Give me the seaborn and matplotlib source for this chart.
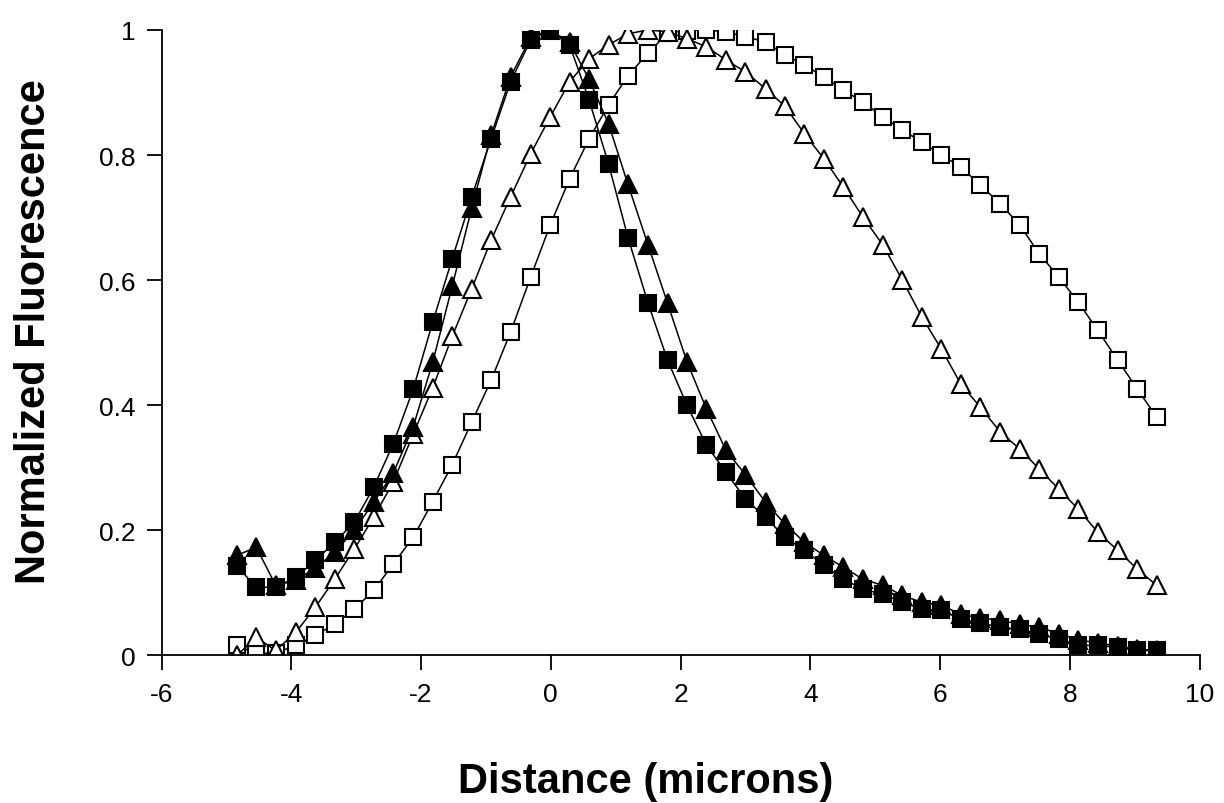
import numpy as np
import pandas as pd
import matplotlib
matplotlib.use("Agg")
import matplotlib.pyplot as plt
import seaborn as sns

# distance along the profile (microns), shared by all four profiles
distance = [-4.84, -4.54, -4.24, -3.93, -3.63, -3.33, -3.03, -2.73, -2.43, -2.12,
            -1.82, -1.52, -1.22, -0.92, -0.62, -0.31, -0.01, 0.29, 0.59, 0.89,
            1.19, 1.50, 1.80, 2.10, 2.40, 2.70, 3.00, 3.31, 3.61, 3.91,
            4.21, 4.51, 4.81, 5.12, 5.42, 5.72, 6.02, 6.32, 6.62, 6.93,
            7.23, 7.53, 7.83, 8.13, 8.43, 8.74, 9.04, 9.34]

filled_square = [0.143, 0.109, 0.109, 0.125, 0.152, 0.181, 0.213, 0.269, 0.338, 0.426,
                 0.533, 0.634, 0.733, 0.826, 0.917, 0.984, 1.0, 0.976, 0.888, 0.786,
                 0.668, 0.563, 0.472, 0.400, 0.336, 0.293, 0.250, 0.221, 0.189, 0.168,
                 0.144, 0.122, 0.106, 0.098, 0.085, 0.074, 0.072, 0.058, 0.052, 0.045,
                 0.042, 0.034, 0.026, 0.016, 0.016, 0.013, 0.008, 0.008]

filled_triangle = [0.160, 0.173, 0.112, 0.120, 0.140, 0.165, 0.200, 0.245, 0.291, 0.366,
                   0.469, 0.590, 0.715, 0.832, 0.925, 0.988, 1.0, 0.980, 0.921, 0.850,
                   0.753, 0.656, 0.563, 0.469, 0.394, 0.328, 0.289, 0.245, 0.210, 0.181,
                   0.160, 0.141, 0.122, 0.112, 0.096, 0.085, 0.080, 0.066, 0.060, 0.056,
                   0.050, 0.045, 0.035, 0.025, 0.020, 0.015, 0.010, 0.008]

open_triangle = [0.000, 0.029, 0.008, 0.037, 0.077, 0.122, 0.170, 0.221, 0.277, 0.354,
                 0.428, 0.510, 0.586, 0.664, 0.733, 0.802, 0.861, 0.917, 0.954, 0.976,
                 0.994, 1.0, 0.997, 0.986, 0.973, 0.952, 0.933, 0.906, 0.878, 0.834,
                 0.794, 0.749, 0.701, 0.656, 0.600, 0.541, 0.490, 0.434, 0.397, 0.357,
                 0.330, 0.298, 0.266, 0.234, 0.197, 0.168, 0.138, 0.112]

open_square = [0.016, 0.003, 0.004, 0.016, 0.032, 0.050, 0.074, 0.104, 0.146, 0.189,
               0.246, 0.305, 0.373, 0.440, 0.517, 0.605, 0.688, 0.762, 0.826, 0.880,
               0.927, 0.963, 0.995, 0.999, 1.0, 0.997, 0.989, 0.981, 0.960, 0.944,
               0.925, 0.904, 0.885, 0.861, 0.840, 0.821, 0.800, 0.781, 0.752, 0.722,
               0.688, 0.642, 0.605, 0.565, 0.520, 0.472, 0.426, 0.381]

x_ticks = [-6, -4, -2, 0, 2, 4, 6, 8, 10]
y_ticks = [0, 0.2, 0.4, 0.6, 0.8, 1]
y_tick_labels = ["0", "0.2", "0.4", "0.6", "0.8", "1"]

sns.set_style("ticks")
plt.rcParams['font.family'] = ['Liberation Sans', 'DejaVu Sans']
plt.rcParams['axes.unicode_minus'] = False

fig = plt.figure(figsize=(12.24, 8.04), dpi=100)
ax = fig.add_axes([0.132, 0.1835, 0.848, 0.778])

# (values, marker, face colour, marker size) -- drawn back to front
series = [
    (open_square, "s", "white", 12),
    (open_triangle, "^", "white", 13),
    (filled_triangle, "^", "black", 13),
    (filled_square, "s", "black", 12),
]
for values, marker, face, size in series:
    sns.lineplot(x=distance, y=values, ax=ax, color="black", linewidth=1.1,
                 marker=marker, markersize=size, markerfacecolor=face,
                 markeredgecolor="black", markeredgewidth=1.5)

ax.set_xlim(-6, 10)
ax.set_ylim(0, 1)
ax.set_xticks(x_ticks)
ax.set_xticklabels([str(t) for t in x_ticks])
ax.set_yticks(y_ticks)
ax.set_yticklabels(y_tick_labels)
ax.tick_params(axis="both", direction="out", length=11, width=1.3,
               labelsize=19, pad=8, colors="black")
for side in ["left", "bottom"]:
    ax.spines[side].set_linewidth(1.3)
    ax.spines[side].set_color("black")
sns.despine(ax=ax)

ax.set_xlabel("Distance (microns)", fontsize=30, fontweight="bold",
              labelpad=40, color="black")
ax.set_ylabel("Normalized Fluorescence", fontsize=30, fontweight="bold",
              labelpad=32, color="black")
# the titles sit a little off the axis centres in the original
ax.xaxis.label.set_x(0.466)
ax.yaxis.label.set_y(0.52)

fig.savefig("out.png", dpi=100)
